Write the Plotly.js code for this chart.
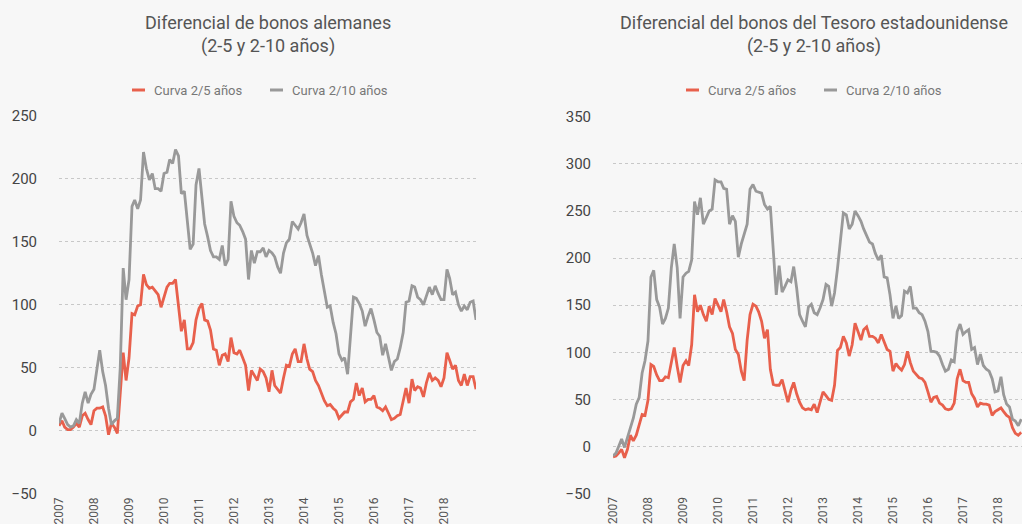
<!DOCTYPE html>
<html><head><meta charset="utf-8">
<script src="https://cdn.plot.ly/plotly-3.0.1.min.js"></script>
<style>html,body{margin:0;padding:0;overflow:hidden;background:#f7f7f7;}#chart{width:1040px;height:524px;}</style>
</head><body><div id="chart"></div>
<script>
const startYear = 2007;
const tickYears = ['2007','2008','2009','2010','2011','2012','2013','2014','2015','2016','2017','2018'];
const seriesNames = ['Curva 2/5 años', 'Curva 2/10 años'];
const titles = ['Diferencial de bonos alemanes<br>(2-5 y 2-10 años)', 'Diferencial del bonos del Tesoro estadounidense<br>(2-5 y 2-10 años)'];

// Alemania (monthly, Jan 2007 - Dec 2018)
const deCurva25 = [4,8,3,1,1,3,6,3,12,14,
9,5,16,18,18,19,12,-3,6,3,
-2,30,62,40,58,93,92,99,100,124,
116,113,114,111,108,98,107,114,117,117,
120,98,79,88,65,65,70,88,97,101,
88,87,80,65,64,52,60,61,55,74,
62,61,64,58,52,32,48,44,40,49,
47,42,31,48,36,33,30,42,52,51,
61,65,55,55,69,57,49,47,40,36,
30,24,20,21,18,16,10,13,15,15,
23,25,38,28,34,23,25,25,28,19,
18,16,19,14,9,10,12,13,23,34,
22,41,32,35,34,27,38,46,40,42,
40,35,42,62,56,49,52,40,36,45,
36,43,43,33];
const deCurva210 = [6,14,10,5,3,4,9,6,22,31,
22,29,33,48,64,47,36,18,5,8,
10,50,129,104,120,178,183,176,183,221,
208,199,204,192,192,190,204,205,215,212,
223,218,188,190,166,144,148,195,208,182,
164,154,143,138,138,136,147,131,136,182,
170,165,163,158,152,120,143,133,142,142,
145,138,143,141,138,130,125,141,149,152,
166,163,160,165,172,155,149,141,131,139,
124,111,98,99,86,77,61,56,58,45,
76,106,105,101,95,83,91,97,88,78,
75,60,69,59,48,55,57,66,78,102,
103,115,114,106,104,100,107,114,108,115,
109,104,104,128,121,108,110,100,95,99,
96,102,103,88];

// EE.UU. (monthly, Jan 2007 - visible part)
const usCurva25 = [-11,-10,-7,-3,-12,-3,12,6,12,23,
34,33,49,87,85,76,70,70,74,73,
90,105,85,68,86,91,86,108,161,143,
150,140,133,149,140,157,150,143,156,143,
127,120,103,98,80,70,113,140,151,149,
143,133,115,124,82,66,65,65,71,60,
47,60,68,56,47,41,39,40,39,45,
36,47,58,54,50,49,65,102,105,117,
110,96,108,131,122,113,124,127,117,117,
115,110,119,110,103,101,80,88,84,81,
87,101,89,80,76,73,72,68,58,47,
52,53,46,44,40,39,40,46,72,82,
70,68,68,56,51,42,46,45,45,44,
33,37,39,41,37,33,31,20,14,12,
15];
const usCurva210 = [-10,-7,0,8,-1,10,20,30,45,52,
78,91,112,180,187,156,148,130,136,147,
190,215,190,136,180,184,186,198,260,246,
264,236,243,250,252,283,281,281,274,273,
236,245,239,201,215,225,236,273,278,271,
270,269,257,252,255,213,161,192,164,170,
177,175,191,168,140,133,127,148,151,142,
140,147,156,172,170,149,163,189,220,248,
246,231,236,250,245,239,231,224,217,215,
205,198,203,180,179,161,136,149,136,139,
165,163,170,147,147,142,140,133,122,101,
101,100,96,87,80,82,92,90,122,130,
119,122,124,103,105,87,98,86,82,80,
72,58,59,74,55,45,42,29,27,22,
29];

const colors = ['#e8604c', '#999999'];
const W = 1040, H = 524;

function monthDates(n) {
  const out = [];
  for (let i = 0; i < n; i++) {
    const y = startYear + Math.floor(i / 12), m = i % 12 + 1;
    out.push(y + '-' + String(m).padStart(2, '0') + '-01');
  }
  return out;
}
function line(y, idx, xa, ya) {
  return { x: monthDates(y.length), y: y, type: 'scatter', mode: 'lines', name: seriesNames[idx],
    xaxis: xa, yaxis: ya, line: { color: colors[idx], width: 2.8 }, hoverinfo: 'x+y' };
}
const data = [
  line(deCurva25, 0, 'x', 'y'), line(deCurva210, 1, 'x', 'y'),
  line(usCurva25, 0, 'x2', 'y2'), line(usCurva210, 1, 'x2', 'y2')
];

const FONT = 'Roboto, "DejaVu Sans", sans-serif';
function xax(d0, d1, anchor) {
  return { domain: [d0 / W, d1 / W], anchor: anchor, type: 'date',
    range: ['2007-01-01', '2018-12-01'],
    tickvals: tickYears.map(y => y + '-01-01'), ticktext: tickYears,
    tickangle: -90, showgrid: false, zeroline: false, showline: false, ticks: '',
    tickfont: { family: FONT, size: 12, color: '#555' }, fixedrange: true };
}
function yax(top, bottom, r, anchor) {
  return { domain: [(H - bottom) / H, (H - top) / H], anchor: anchor, range: r,
    tick0: -50, dtick: 50, showgrid: true, gridcolor: '#c8c8c8', griddash: 'dot', gridwidth: 1,
    zeroline: false, showline: false, ticks: 'outside', ticklen: 18, tickcolor: 'rgba(0,0,0,0)',
    tickfont: { family: FONT, size: 15, color: '#444' }, fixedrange: true };
}

const legendPos = [[132, 270], [686, 824]];
const titleCenters = [268, 814];
const shapes = [], annotations = [];
for (let c = 0; c < 2; c++) {
  annotations.push({ xref: 'paper', yref: 'paper', x: titleCenters[c] / W, y: (H - 34) / H,
    text: titles[c], showarrow: false, xanchor: 'center', yanchor: 'middle', align: 'center',
    font: { family: FONT, size: 18, color: '#555' } });
  for (let s = 0; s < 2; s++) {
    const x0 = legendPos[c][s];
    shapes.push({ type: 'line', xref: 'paper', yref: 'paper', x0: x0 / W, x1: (x0 + 13) / W,
      y0: (H - 90) / H, y1: (H - 90) / H, line: { color: colors[s], width: 3 } });
    annotations.push({ xref: 'paper', yref: 'paper', x: (x0 + 20) / W, y: (H - 90) / H,
      text: seriesNames[s], showarrow: false, xanchor: 'left', yanchor: 'middle',
      font: { family: FONT, size: 13, color: '#777' } });
  }
}

const layout = {
  width: W, height: H, margin: { l: 0, r: 0, t: 0, b: 0 },
  paper_bgcolor: '#f7f7f7', plot_bgcolor: '#f7f7f7', showlegend: false,
  xaxis: xax(59, 476, 'y'), yaxis: yax(115.5, 494, [-50, 250], 'x'),
  xaxis2: xax(613, 1030, 'y2'), yaxis2: yax(116.8, 493.6, [-50, 350], 'x2'),
  shapes: shapes, annotations: annotations
};
Plotly.newPlot('chart', data, layout, { displayModeBar: false, staticPlot: true });
</script></body></html>
